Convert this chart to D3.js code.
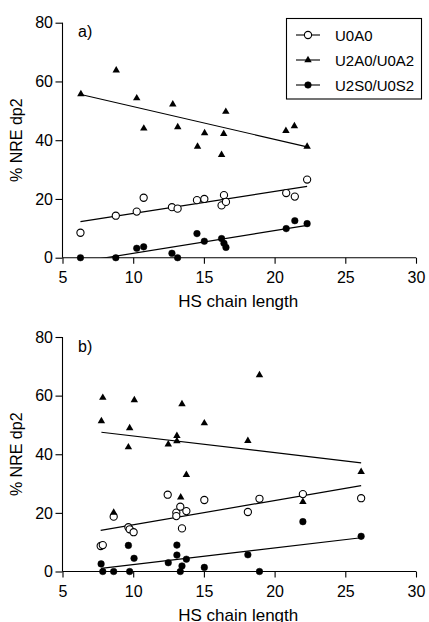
<!DOCTYPE html>
<html>
<head>
<meta charset="utf-8">
<script src="https://cdn.jsdelivr.net/npm/d3@7"></script>
<style>
  body { margin: 0; background: #fff; }
  svg { display: block; font-family: "Liberation Sans", Arial, sans-serif; }
</style>
</head>
<body>
<svg id="chart"></svg>
<script>
// values, [HS chain length, % NRE dp2]
const seriesNames = ["U0A0", "U2A0/U0A2", "U2S0/U0S2"];
const xTicks = [5, 10, 15, 20, 25, 30];
const yTicks = [0, 20, 40, 60, 80];

const aU0A0 = [[6.27, 8.5], [8.77, 14.3], [10.25, 15.7], [10.74, 20.4], [12.74, 17.2], [13.14, 16.7],
    [14.51, 19.6], [15.03, 20.0], [16.25, 17.8], [16.42, 21.3], [16.56, 19.0], [20.82, 22.0],
    [21.43, 20.8], [22.3, 26.6]];
const aU2A0 = [[6.3, 55.7], [8.8, 63.8], [10.25, 54.3], [10.75, 44.0], [12.8, 52.2], [13.15, 44.5],
    [14.55, 37.8], [15.05, 42.4], [16.25, 35.0], [16.4, 42.2], [16.55, 49.7], [20.8, 43.2],
    [21.4, 44.8], [22.3, 37.8]];
const aU2S0 = [[6.27, 0], [8.77, 0], [10.25, 3.2], [10.74, 3.7], [12.74, 1.5], [13.14, 0],
    [14.51, 8.2], [15.03, 5.6], [16.25, 6.5], [16.42, 4.9], [16.56, 3.5], [20.82, 9.9],
    [21.43, 12.6], [22.3, 11.6]];

const bU0A0 = [[7.7, 8.7], [7.85, 9.0], [8.62, 18.7], [9.66, 15.1], [9.75, 14.4], [10.03, 13.4],
    [12.44, 26.2], [13.05, 20.1], [13.05, 18.9], [13.33, 22.1], [13.76, 20.6], [13.45, 14.7],
    [15.03, 24.4], [18.11, 20.3], [18.93, 24.8], [22.0, 26.4], [26.12, 25.0]];
const bU2A0 = [[7.75, 51.3], [7.85, 59.3], [8.62, 20.1], [9.66, 42.4], [9.75, 48.9], [10.08, 58.5],
    [12.48, 43.4], [13.09, 44.5], [13.09, 46.3], [13.36, 25.3], [13.45, 57.1], [13.76, 33.0],
    [15.03, 50.6], [18.11, 44.6], [18.93, 67.0], [22.0, 23.8], [26.12, 34.0]];
const bU2S0 = [[7.73, 2.6], [7.85, 0], [8.62, 0], [9.66, 8.9], [9.75, 0], [10.06, 4.5],
    [12.48, 3.0], [13.09, 9.0], [13.09, 5.6], [13.76, 4.2], [13.45, 1.9], [13.33, 0],
    [15.03, 1.4], [18.11, 5.7], [18.93, 0], [22.0, 17.0], [26.12, 12.0]];

const W = 429, H = 622;
const svg = d3.select("#chart").attr("width", W).attr("height", H);

const x = d3.scaleLinear().domain([5, 30]).range([62.5, 416]);

function fit(pts) {
    const mx = d3.mean(pts, d => d[0]), my = d3.mean(pts, d => d[1]);
    let sxy = 0, sxx = 0;
    pts.forEach(d => { sxy += (d[0] - mx) * (d[1] - my); sxx += (d[0] - mx) * (d[0] - mx); });
    const b = sxy / sxx;
    const ext = d3.extent(pts, d => d[0]);
    return ext.map(v => [v, my + b * (v - mx)]);
}

function panel(id, top, bottom, label, sets, legend) {
    const y = d3.scaleLinear().domain([0, 80]).range([bottom, top]);
    const g = svg.append("g");

    g.append("clipPath").attr("id", "clip" + id)
        .append("rect").attr("x", x(5)).attr("y", 0).attr("width", x(30) - x(5)).attr("height", bottom);

    // x axis
    const xa = g.append("g").attr("transform", `translate(0,${bottom})`)
        .call(d3.axisBottom(x).tickValues(xTicks).tickSize(6).tickPadding(8));
    // y axis
    const ya = g.append("g").attr("transform", `translate(${x(5)},0)`)
        .call(d3.axisLeft(y).tickValues(yTicks).tickSize(7).tickPadding(2.5));
    [xa, ya].forEach(a => {
        a.select(".domain").attr("stroke", "#000").attr("stroke-width", 1.1);
        a.selectAll(".tick line").attr("stroke", "#000").attr("stroke-width", 1.1);
        a.selectAll(".tick text").attr("fill", "#000").style("font-size", "16px")
            .style("font-family", "Liberation Sans, Arial, sans-serif");
    });
    // outer domain ticks off
    xa.select(".domain").attr("d", `M${x(5)},0H${x(30)}`);
    ya.select(".domain").attr("d", `M0,${y(80)}V${y(0)}`);

    g.append("text").attr("x", 78).attr("y", top + 14.5)
        .style("font-size", "16px").text(label);

    g.append("text").attr("x", (x(5) + x(30)) / 2 - 1).attr("y", bottom + 49)
        .attr("text-anchor", "middle").style("font-size", "17px").text("HS chain length");

    g.append("text").attr("transform", `translate(21.5,${(top + bottom) / 2}) rotate(-90)`)
        .attr("text-anchor", "middle").style("font-size", "16px").text("% NRE dp2");

    const line = d3.line().x(d => x(d[0])).y(d => y(d[1]));

    sets.forEach((pts, i) => {
        g.append("path").datum(fit(pts)).attr("d", line)
            .attr("clip-path", `url(#clip${id})`)
            .attr("fill", "none").attr("stroke", "#000").attr("stroke-width", 1.2);
    });

    sets.forEach((pts, i) => {
        drawMarks(g, pts.map(d => [x(d[0]), y(d[1])]), i);
    });

    if (legend) {
        const lg = g.append("g");
        lg.append("rect").attr("x", 286.5).attr("y", 18.5).attr("width", 135).attr("height", 80.5)
            .attr("fill", "#fff").attr("stroke", "#000").attr("stroke-width", 1.1);
        seriesNames.forEach((name, i) => {
            const ly = 35 + i * 25;
            lg.append("line").attr("x1", 296).attr("x2", 320).attr("y1", ly).attr("y2", ly)
                .attr("stroke", "#000").attr("stroke-width", 1.1);
            drawMarks(lg, [[308, ly]], i);
            lg.append("text").attr("x", 335).attr("y", ly + 5.5)
                .style("font-size", "15px").text(name);
        });
    }
}

function drawMarks(g, pts, i) {
    if (i === 1) {
        g.selectAll(null).data(pts).enter().append("path")
            .attr("transform", d => `translate(${d[0]},${d[1]})`)
            .attr("d", d3.symbol(d3.symbolTriangle, 24)).attr("fill", "#000");
    } else {
        g.selectAll(null).data(pts).enter().append("circle")
            .attr("cx", d => d[0]).attr("cy", d => d[1])
            .attr("r", i === 0 ? 3.6 : 3.3)
            .attr("fill", i === 0 ? "#fff" : "#000")
            .attr("stroke", "#000").attr("stroke-width", i === 0 ? 1.1 : 0.5);
    }
}

panel("a", 22.7, 257.7, "a)", [aU0A0, aU2A0, aU2S0], true);
panel("b", 337, 571.5, "b)", [bU0A0, bU2A0, bU2S0], false);
</script>
</body>
</html>
